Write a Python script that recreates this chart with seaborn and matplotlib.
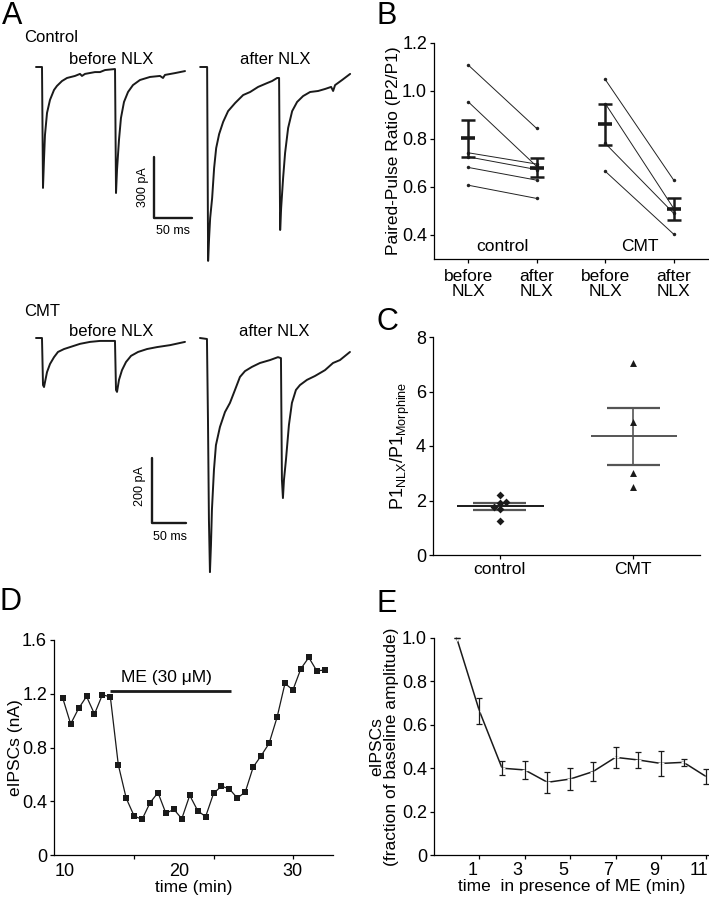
import numpy as np
import pandas as pd
import matplotlib
matplotlib.use("Agg")
import matplotlib.pyplot as plt
from matplotlib.transforms import ScaledTranslation
import seaborn as sns

# ---- A: example sweeps, time (ms) and current (pA)
ctrl_before_t = [0, 7.9, 9.2, 10.5, 11.8, 14.5, 18.4, 23.7, 27.6, 34.2, 40.8, 51.3, 57.9, 60.5, 64.5,
                 77.6, 84.2, 90.8, 104.0, 105.3, 106.6, 109.2, 111.8, 115.8, 121.1, 127.6, 136.8,
                 150.0, 163.2, 167.1, 169.7, 182.9, 196.1]
ctrl_before_i = [0, 0, -595, -458, -335, -226, -162, -113, -93, -69, -54, -44, -34, -44, -34,
                 -25, -25, -15, -10, -620, -507, -359, -251, -172, -123, -89, -64,
                 -49, -44, -54, -39, -30, -20]
ctrl_after_t = [0, 9.2, 10.5, 11.8, 13.2, 15.8, 18.4, 21.1, 25.0, 30.3, 36.8, 46.1, 56.6, 65.8, 76.3,
                88.2, 94.7, 101.3, 103.9, 105.3, 106.6, 109.2, 111.8, 115.8, 121.1, 127.6, 135.5,
                144.7, 155.3, 164.5, 172.4, 175.0, 177.6, 186.8, 197.4]
ctrl_after_i = [0, 0, -954, -841, -743, -645, -497, -399, -330, -270, -217, -177, -138, -123, -98,
                -79, -69, -54, -54, -802, -694, -546, -423, -300, -217, -172, -143,
                -123, -118, -108, -98, -118, -89, -64, -34]
cmt_before_t = [0, 8.8, 10.3, 11.8, 13.2, 16.2, 20.6, 26.5, 32.3, 41.2, 50.0, 64.7, 79.4, 94.1,
                108.8, 116.1, 117.6, 119.1, 122.0, 126.4, 132.3, 139.7, 150.0, 163.2, 177.9, 197.0, 219.0]
cmt_before_i = [0, 0, -145, -151, -136, -105, -80, -59, -43, -34, -28, -18, -12, -9,
                -9, -9, -160, -166, -129, -99, -74, -55, -43, -34, -28, -22, -12]
cmt_after_t = [0, 10.3, 11.8, 13.2, 14.7, 16.2, 17.6, 20.6, 23.5, 29.4, 36.8, 44.1, 51.5, 58.8, 66.2,
               76.4, 88.2, 102.9, 114.7, 119.1, 120.5, 122.0, 123.5, 126.4, 130.8, 135.2, 141.1,
               147.0, 157.3, 169.1, 183.8, 195.6, 205.8, 220.5]
cmt_after_i = [0, -3, -252, -560, -721, -638, -530, -406, -330, -274, -228, -200, -160, -120, -102,
               -89, -77, -68, -59, -62, -437, -493, -437, -376, -268, -200, -160,
               -145, -129, -117, -99, -77, -68, -43]

# ---- B: paired-pulse ratio per cell
ppr_ticklabels = ["before\nNLX", "after\nNLX", "before\nNLX", "after\nNLX"]
ctrl_before_ppr = [1.107, 0.954, 0.742, 0.725, 0.681, 0.607]
ctrl_after_ppr = [0.843, 0.685, 0.695, 0.672, 0.628, 0.552]
cmt_before_ppr = [1.047, 0.947, 0.781, 0.665]
cmt_after_ppr = [0.628, 0.510, 0.490, 0.403]

# ---- C: P1 NLX / P1 morphine
c_groups = ["control", "CMT"]
ctrl_p1_ratio = [2.20, 1.93, 1.92, 1.75, 1.68, 1.25]
cmt_p1_ratio = [7.03, 4.89, 3.00, 2.48]

# ---- D: eIPSC amplitude per sweep (nA)
d_amp = [1.168, 0.975, 1.091, 1.180, 1.049, 1.193, 1.176, 0.672, 0.422, 0.290, 0.265, 0.389,
         0.464, 0.310, 0.340, 0.270, 0.444, 0.330, 0.285, 0.458, 0.513, 0.491, 0.424, 0.469,
         0.655, 0.739, 0.831, 1.024, 1.277, 1.228, 1.386, 1.470, 1.371, 1.376]
d_minutes = [10, 20, 30]
sweep1_min = 9.8       # time of first sweep
min_per_sweep = 0.697
me_sweeps = (7.0, 22.2)
me_level = 1.22

# ---- E: normalised eIPSC, mean and SEM
e_time = [0, 1, 2, 3, 4, 5, 6, 7, 8, 9, 10, 11]
e_mean = [1.0, 0.664, 0.400, 0.392, 0.335, 0.350, 0.384, 0.450, 0.438, 0.422, 0.427, 0.361]
e_sem = [0.0, 0.061, 0.033, 0.042, 0.049, 0.049, 0.043, 0.048, 0.036, 0.059, 0.015, 0.034]
e_ticks = [1, 3, 5, 7, 9, 11]

sns.set_theme(style="ticks")
plt.rcParams["font.family"] = ["Liberation Sans", "DejaVu Sans"]
plt.rcParams.update({
    "axes.linewidth": 0.9, "axes.edgecolor": "black",
    "xtick.major.size": 3, "ytick.major.size": 3,
    "xtick.major.width": 0.9, "ytick.major.width": 0.9,
    "xtick.major.pad": 2, "ytick.major.pad": 2,
    "xtick.color": "black", "ytick.color": "black",
    "xtick.labelsize": 13, "ytick.labelsize": 13,
    "axes.labelsize": 12.5, "text.color": "black", "axes.labelcolor": "black",
})

W, H = 709, 900
fig = plt.figure(figsize=(W / 100, H / 100), dpi=100)


def px_axes(x0, y0, x1, y1):
    return fig.add_axes([x0 / W, 1 - y1 / H, (x1 - x0) / W, (y1 - y0) / H])


def fig_text(x, y, s, **kw):
    fig.text(x / W, 1 - y / H, s, **kw)


def trace_axes(y0, y1, origin, ms_px, pa_px):
    ax = px_axes(0, y0, 360, y1)
    ox, oy = origin
    ax.set_xlim(-ox * ms_px, (360 - ox) * ms_px)
    ax.set_ylim(-(y1 - oy) * pa_px, -(y0 - oy) * pa_px)
    ax.axis("off")
    return ax


# ---------------- A
axA1 = trace_axes(0, 300, (36, 67), 1.316, 4.92)
for t, i, shift in [(ctrl_before_t, ctrl_before_i, 0), (ctrl_after_t, ctrl_after_i, 216)]:
    sns.lineplot(x=np.array(t) + shift, y=i, ax=axA1, color="k", lw=1.4,
                 estimator=None, sort=False)
axA1.plot([155.3, 155.3, 205.3], [-443, -743, -743], color="k", lw=1.7)
axA1.text(141, -593, "300 pA", rotation=90, ha="center", va="center", fontsize=9)
axA1.text(180, -808, "50 ms", ha="center", va="center", fontsize=9)

axA2 = trace_axes(300, 600, (36, 338), 1.47, 3.08)
for t, i, shift in [(cmt_before_t, cmt_before_i, 0), (cmt_after_t, cmt_after_i, 241)]:
    sns.lineplot(x=np.array(t) + shift, y=i, ax=axA2, color="k", lw=1.4,
                 estimator=None, sort=False)
axA2.plot([170.5, 170.5, 220.5], [-370, -570, -570], color="k", lw=1.7)
axA2.text(153, -455, "200 pA", rotation=90, ha="center", va="center", fontsize=9)
axA2.text(197, -613, "50 ms", ha="center", va="center", fontsize=9)

fig_text(24, 37, "Control", fontsize=12, va="center")
fig_text(111, 60, "before NLX", fontsize=12, va="center", ha="center")
fig_text(275, 60, "after NLX", fontsize=12, va="center", ha="center")
fig_text(24, 312, "CMT", fontsize=12, va="center")
fig_text(111, 332, "before NLX", fontsize=12, va="center", ha="center")
fig_text(274, 332, "after NLX", fontsize=12, va="center", ha="center")

# ---------------- B
axB = px_axes(434, 42.7, 708, 259)
rows = []
for tag, before, after, p0 in [("c", ctrl_before_ppr, ctrl_after_ppr, 0),
                               ("m", cmt_before_ppr, cmt_after_ppr, 2)]:
    for k, (b, a) in enumerate(zip(before, after)):
        rows.append({"cell": f"{tag}{k}", "pos": p0, "ppr": b})
        rows.append({"cell": f"{tag}{k}", "pos": p0 + 1, "ppr": a})
dfB = pd.DataFrame(rows)
sns.lineplot(data=dfB, x="pos", y="ppr", units="cell", estimator=None, color="#222222",
             lw=0.7, marker="o", markersize=2.5, markeredgewidth=0, ax=axB)
for pos, vals in enumerate([ctrl_before_ppr, ctrl_after_ppr, cmt_before_ppr, cmt_after_ppr]):
    m = np.mean(vals)
    s = np.std(vals, ddof=1) / np.sqrt(len(vals))
    axB.errorbar(pos, m, yerr=s, fmt="none", ecolor="k", elinewidth=1.8, capsize=5, capthick=1.8)
    axB.hlines(m, pos - 0.1, pos + 0.1, color="k", lw=2.6)
axB.set_xlim(-0.5, 3.5)
axB.set_ylim(0.3, 1.2)
axB.set_yticks([0.4, 0.6, 0.8, 1.0, 1.2])
axB.set_xticks(range(4))
axB.set_xticklabels(ppr_ticklabels, fontsize=12.5, linespacing=1.0)
axB.tick_params(axis="x", pad=4)
axB.set_xlabel("")
axB.set_ylabel("Paired-Pulse Ratio (P2/P1)", labelpad=1)
axB.text(0.5, 0.35, "control", ha="center", va="center", fontsize=12.5)
axB.text(2.5, 0.35, "CMT", ha="center", va="center", fontsize=12.5)
sns.despine(ax=axB)

# ---------------- C
axC = px_axes(433, 337, 700, 555)
sns.swarmplot(x=["control"] * len(ctrl_p1_ratio), y=ctrl_p1_ratio, order=c_groups,
              marker="D", color="k", size=4, ax=axC)
sns.swarmplot(x=["CMT"] * len(cmt_p1_ratio), y=cmt_p1_ratio, order=c_groups,
              marker="^", color="k", size=5, ax=axC)
for pos, vals, mcol in [(0, ctrl_p1_ratio, "k"), (1, cmt_p1_ratio, "#555555")]:
    m = np.mean(vals)
    s = np.std(vals, ddof=1) / np.sqrt(len(vals))
    axC.hlines(m, pos - 0.32, pos + 0.33, color=mcol, lw=1.4)
    axC.hlines([m - s, m + s], pos - 0.2, pos + 0.2, color="#555555", lw=1.6)
    axC.vlines(pos, m - s, m + s, color="#555555", lw=1.2)
axC.set_xlim(-0.5, 1.5)
axC.set_ylim(0, 8)
axC.set_yticks([0, 2, 4, 6, 8])
axC.set_xticks([0, 1])
axC.set_xticklabels(c_groups, fontsize=12.5)
axC.set_ylabel(r"P1$_\mathregular{NLX}$/P1$_\mathregular{Morphine}$", fontsize=13, labelpad=3)
sns.despine(ax=axC)

# ---------------- D
axD = px_axes(54, 640, 333, 855)
sweeps = np.arange(1, len(d_amp) + 1)
sns.lineplot(x=sweeps, y=d_amp, color="k", lw=0.9, marker="s", markersize=4,
             markeredgewidth=0, ax=axD)
axD.hlines(me_level, *me_sweeps, color="k", lw=2)
axD.text(sum(me_sweeps) / 2 - 0.5, me_level + 0.1, "ME (30 \u03bcM)", ha="center",
         va="center", fontsize=12.5)
axD.set_xlim(-0.1, 35.05)
axD.set_ylim(0, 1.6)
axD.set_yticks([0, 0.4, 0.8, 1.2, 1.6])
axD.set_yticklabels(["0", "0.4", "0.8", "1.2", "1.6"])
axD.set_xticks([10, 20, 30])
axD.set_xticklabels([])
axD.set_xticks([1 + (m - sweep1_min) / min_per_sweep for m in d_minutes],
               [str(m) for m in d_minutes], minor=True)
axD.tick_params(axis="x", which="minor", length=0, pad=6, labelsize=13)
axD.set_xlabel("time (min)", labelpad=0)
axD.set_ylabel("eIPSCs (nA)", labelpad=-1)
sns.despine(ax=axD)

# ---------------- E
axE = px_axes(434, 638, 709, 855)
sns.lineplot(x=e_time, y=e_mean, color="k", lw=1.1, marker="+", markersize=4,
             markeredgewidth=1, ax=axE, clip_on=False)
axE.errorbar(e_time, e_mean, yerr=e_sem, fmt="none", ecolor="k", elinewidth=0.9,
             capsize=2.5, capthick=0.9, clip_on=False)
axE.set_xlim(-1, 11.12)
axE.set_ylim(0, 1.0)
axE.set_yticks([0, 0.2, 0.4, 0.6, 0.8, 1.0])
axE.set_yticklabels(["0", "0.2", "0.4", "0.6", "0.8", "1.0"])
axE.set_xticks(e_ticks)
axE.set_xticklabels([str(t) for t in e_ticks])
# labels sit a little left of their ticks in the original
shift = ScaledTranslation(-7 / 100, 0, fig.dpi_scale_trans)
for lbl in axE.get_xticklabels():
    lbl.set_transform(lbl.get_transform() + shift)
axE.set_xlabel("time  in presence of ME (min)", labelpad=0)
axE.set_ylabel("eIPSCs\n(fraction of baseline amplitude)", linespacing=1.0, labelpad=2)
sns.despine(ax=axE)

for letter, x, y in [("A", 2, 16), ("B", 377, 16), ("C", 377, 322), ("D", 0, 602), ("E", 377, 604)]:
    fig_text(x, y, letter, fontsize=22, va="center")

fig.savefig("out.png", dpi=100)
